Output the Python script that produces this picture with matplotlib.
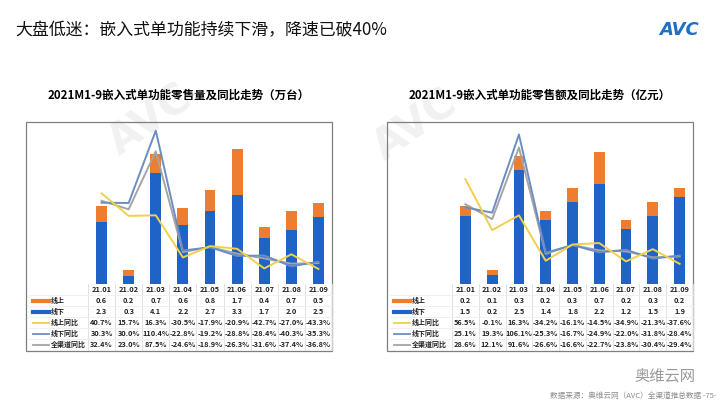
import numpy as np
import matplotlib
matplotlib.use('Agg')
from matplotlib import pyplot as plt
from matplotlib.patches import Rectangle
from matplotlib.lines import Line2D

plt.rcParams['font.family'] = ['Noto Sans CJK SC', 'DejaVu Sans']

months = ['21.01', '21.02', '21.03', '21.04', '21.05', '21.06', '21.07', '21.08', '21.09']

# 零售量 (万台)
vol_online = [0.6, 0.2, 0.7, 0.6, 0.8, 1.7, 0.4, 0.7, 0.5]
vol_offline = [2.3, 0.3, 4.1, 2.2, 2.7, 3.3, 1.7, 2.0, 2.5]
vol_online_yoy = [40.7, 15.7, 16.3, -30.5, -17.9, -20.9, -42.7, -27.0, -43.3]
vol_offline_yoy = [30.3, 30.0, 110.4, -22.8, -19.2, -28.8, -28.4, -40.3, -35.3]
vol_total_yoy = [32.4, 23.0, 87.5, -24.6, -18.9, -26.3, -31.6, -37.4, -36.8]

# 零售额 (亿元)
amt_online = [0.2, 0.1, 0.3, 0.2, 0.3, 0.7, 0.2, 0.3, 0.2]
amt_offline = [1.5, 0.2, 2.5, 1.4, 1.8, 2.2, 1.2, 1.5, 1.9]
amt_online_yoy = [56.5, -0.1, 16.3, -34.2, -16.1, -14.5, -34.9, -21.3, -37.6]
amt_offline_yoy = [25.1, 19.3, 106.1, -25.3, -16.7, -24.9, -22.0, -31.8, -28.4]
amt_total_yoy = [28.6, 12.1, 91.6, -26.6, -16.6, -22.7, -23.8, -30.4, -29.4]

row_names = ['线上', '线下', '线上同比', '线下同比', '全渠道同比']

c_on = '#ED7D31'
c_off = '#1F63C6'
c_on_yoy = '#F2D04A'
c_off_yoy = '#6D8DC2'
c_tot = '#A5A5A5'
row_colors = [c_on, c_off, c_on_yoy, c_off_yoy, c_tot]
row_lw = [3, 3, 1.3, 1.3, 1.3]

W, H = 720, 405
fig = plt.figure(figsize=(7.2, 4.05), dpi=100)
fig.patch.set_facecolor('white')

# pixel overlay
ov = fig.add_axes([0, 0, 1, 1], zorder=5)
ov.set_xlim(0, W)
ov.set_ylim(H, 0)
ov.axis('off')
ov.patch.set_alpha(0)

fig.text(15 / W, 1 - 30 / H, '大盘低迷：嵌入式单功能持续下滑，降速已破40%', fontsize=12.2,
         fontweight='medium', va='center', ha='left', color='#111111')
fig.text(699 / W, 1 - 30 / H, 'AVC', fontsize=13, fontweight='bold', style='italic',
         color='#1E6FC6', va='center', ha='right', family='DejaVu Sans')

# watermark
for (wx, wy) in [(150, 120), (415, 125)]:
    fig.text(wx / W, 1 - wy / H, 'AVC', fontsize=30, fontweight='bold', color='#F1F1F1',
             rotation=35, ha='center', va='center', zorder=0, family='DejaVu Sans')


def draw_panel(box_l, col_l, box_r, title, online, offline, on_yoy, off_yoy, tot_yoy, ymax):
    top, base, bottom = 122, 284, 351
    ax = fig.add_axes([col_l / W, 1 - base / H, (box_r - col_l) / W, (base - top) / H], zorder=2)
    x = np.arange(len(months))
    ax.bar(x, offline, width=0.4, color=c_off)
    ax.bar(x, online, width=0.4, bottom=offline, color=c_on)
    ax.set_xlim(-0.5, len(months) - 0.5)
    ax.set_ylim(0, ymax)
    ax.axis('off')
    ax.patch.set_alpha(0)
    ax2 = ax.twinx()
    ax2.plot(x, tot_yoy, color=c_tot, lw=1.4)
    ax2.plot(x, off_yoy, color=c_off_yoy, lw=1.4)
    ax2.plot(x, on_yoy, color=c_on_yoy, lw=1.4)
    ax2.set_ylim(-60, 120)
    ax2.axis('off')

    ov.text((box_l + box_r) / 2, 95, title, fontsize=8.3, fontweight='bold', ha='center', va='center')
    ov.add_patch(Rectangle((box_l, top), box_r - box_l, bottom - top, fill=False, ec='#7F7F7F', lw=0.9))

    # table
    rh = (bottom - 1 - base) / 6
    cw = (box_r - col_l) / len(months)
    for i in range(len(months) + 1):
        ov.plot([col_l + i * cw] * 2, [base, bottom - 1], color='#DDDDDD', lw=0.6)
    for j in range(1, 6):
        ov.plot([box_l + 3, box_r], [base + j * rh] * 2, color='#EEEEEE', lw=0.6)
    rows = [[f'{v:.1f}' for v in online], [f'{v:.1f}' for v in offline],
            [f'{v:.1f}%' for v in on_yoy], [f'{v:.1f}%' for v in off_yoy], [f'{v:.1f}%' for v in tot_yoy]]
    for i, m in enumerate(months):
        cx = col_l + (i + 0.5) * cw
        ov.text(cx, base + 0.5 * rh, m, fontsize=5.3, ha='center', va='center', fontweight='bold', color='#222222')
        for j, r in enumerate(rows):
            ov.text(cx, base + (j + 1.5) * rh, r[i], fontsize=5.3, ha='center', va='center',
                    fontweight='bold', color='#222222')
    for j, name in enumerate(row_names):
        yy = base + (j + 1.5) * rh
        ov.add_line(Line2D([box_l + 7, box_l + 23], [yy, yy], color=row_colors[j], lw=row_lw[j]))
        ov.text(box_l + 25, yy, name, fontsize=5.0, ha='left', va='center', fontweight='bold', color='#222222')


draw_panel(26, 88, 332, '2021M1-9嵌入式单功能零售量及同比走势（万台）',
           vol_online, vol_offline, vol_online_yoy, vol_offline_yoy, vol_total_yoy, 6.0)
draw_panel(387, 452, 693, '2021M1-9嵌入式单功能零售额及同比走势（亿元）',
           amt_online, amt_offline, amt_online_yoy, amt_offline_yoy, amt_total_yoy, 3.55)

# footer
ov.text(695, 377, '奥维云网', fontsize=11, color='#9A9A9A', ha='right', va='center')
ov.text(716, 396, '数据来源：奥维云网（AVC）全渠道推总数据 -75-', fontsize=5.5, color='#8C8C8C',
        ha='right', va='center')

fig.savefig('out.png', dpi=100)
